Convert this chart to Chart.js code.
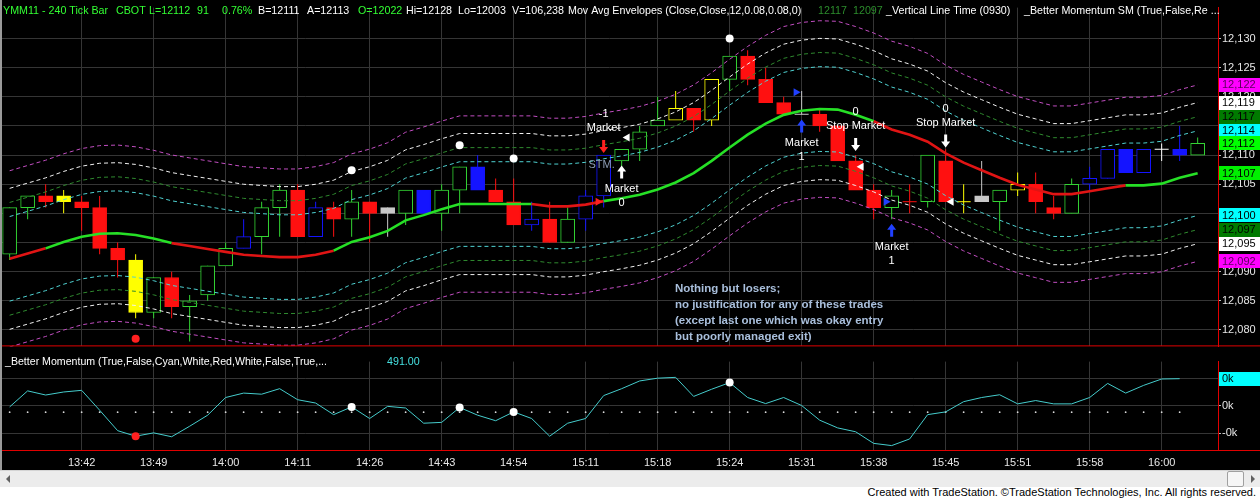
<!DOCTYPE html>
<html>
<head>
<meta charset="utf-8">
<script src="https://cdn.jsdelivr.net/npm/chart.js@4.4.1/dist/chart.umd.min.js"></script>
<style>
  html, body { margin: 0; padding: 0; background: #000; }
  body { width: 1260px; height: 498px; position: relative; overflow: hidden; font-family: "Liberation Sans", Arial, sans-serif; }
  #priceCanvas { position: absolute; left: 0; top: 0; }
  #momCanvas { position: absolute; left: 0; top: 354px; }
  #leftEdge { position: absolute; left: 0; top: 0; width: 2px; height: 470px; background: #9a9a9a; }
  #scroll { position: absolute; left: 0; top: 470px; width: 1260px; height: 16px; background: #ececec; border-top: 1px solid #d4d4d4; }
  #scroll .arrL { position: absolute; left: 6px; top: 4px; width: 0; height: 0; border-top: 4px solid transparent; border-bottom: 4px solid transparent; border-right: 4px solid #606060; }
  #scroll .arrR { position: absolute; right: 5px; top: 4px; width: 0; height: 0; border-top: 4px solid transparent; border-bottom: 4px solid transparent; border-left: 4px solid #606060; }
  #scroll .thumb { position: absolute; left: 1227px; top: 0px; width: 15px; height: 14px; background: #f6f6f6; border: 1px solid #a0a0a0; border-radius: 2px; }
  #footer { position: absolute; left: 0; top: 487px; width: 1256px; height: 11px; padding-right: 4px; background: #fff; color: #000; font-size: 11px; line-height: 11px; text-align: right; white-space: nowrap; }
</style>
</head>
<body>
<canvas id="priceCanvas" width="1260" height="354"></canvas>
<canvas id="momCanvas" width="1260" height="116"></canvas>
<div id="leftEdge"></div>
<div id="scroll"><span class="arrL"></span><span class="thumb"></span><span class="arrR"></span></div>
<div id="footer">Created with TradeStation. ©TradeStation Technologies, Inc. All rights reserved.</div>
<script>
// time axis: label every 4th bar
const timeTickBars = [4, 8, 12, 16, 20, 24, 28, 32, 36, 40, 44, 48, 52, 56, 60, 64];
const timeLabels = ['13:42', '13:49', '14:00', '14:11', '14:26', '14:43', '14:54', '15:11',
                    '15:18', '15:24', '15:31', '15:38', '15:45', '15:51', '15:58', '16:00'];
const priceTicks = [12080, 12085, 12090, 12095, 12100, 12105, 12110, 12115, 12120, 12125, 12130];

// 240 tick bars
const openVals = [12093, 12101, 12103, 12103, 12102, 12101, 12094, 12092, 12083, 12089,
                  12084, 12086, 12091, 12094, 12096, 12101, 12104, 12096, 12101, 12099,
                  12102, 12101, 12100, 12104, 12100, 12104, 12108, 12104, 12102, 12098,
                  12099, 12095, 12099, 12103, 12109, 12111, 12115, 12116, 12118, 12116,
                  12123, 12127, 12123, 12119, 12117, 12117, 12115, 12109, 12104, 12101,
                  12102, 12102, 12109, 12102, 12103, 12102, 12104, 12105, 12101, 12100,
                  12105, 12106, 12111, 12107, 12111, 12111, 12110];
const highVals = [12101, 12103, 12105, 12104, 12103, 12103, 12095, 12093, 12089, 12090,
                  12086, 12091, 12095, 12099, 12102, 12105, 12105, 12102, 12102, 12104,
                  12102, 12101, 12104, 12104, 12105, 12108, 12110, 12106, 12106, 12102,
                  12102, 12101, 12104, 12110, 12111, 12115, 12120, 12121, 12118, 12123,
                  12127, 12128, 12125, 12120, 12121, 12118, 12115, 12110, 12105, 12104,
                  12105, 12110, 12111, 12105, 12109, 12104, 12107, 12107, 12103, 12106,
                  12108, 12111, 12111, 12111, 12112, 12115, 12113];
const lowVals = [12092, 12099, 12101, 12100, 12097, 12093, 12089, 12082, 12082, 12082,
                 12078, 12085, 12091, 12094, 12093, 12096, 12096, 12096, 12096, 12096,
                 12095, 12096, 12098, 12100, 12097, 12100, 12104, 12102, 12098, 12097,
                 12095, 12095, 12097, 12101, 12108, 12109, 12115, 12116, 12114, 12115,
                 12121, 12122, 12119, 12117, 12117, 12114, 12109, 12104, 12099, 12099,
                 12100, 12101, 12102, 12100, 12102, 12097, 12103, 12100, 12099, 12100,
                 12104, 12106, 12107, 12107, 12109, 12109, 12110];
const closeVals = [12101, 12103, 12102, 12102, 12101, 12094, 12092, 12083, 12089, 12084,
                   12085, 12091, 12094, 12096, 12101, 12104, 12096, 12101, 12099, 12102,
                   12100, 12100, 12104, 12100, 12104, 12108, 12104, 12102, 12098, 12099,
                   12095, 12099, 12103, 12110, 12111, 12114, 12116, 12118, 12116, 12123,
                   12127, 12123, 12119, 12117, 12117, 12115, 12109, 12104, 12101, 12103,
                   12102, 12110, 12102, 12102, 12102, 12104, 12105, 12102, 12100, 12105,
                   12106, 12111, 12107, 12111, 12111, 12110, 12112];
// paint bar colour: G green, R red, B blue, Y yellow, S silver, W white
const barColors = ['G','G','R','Y','R','R','R','Y','G','R',
                   'G','G','G','B','G','G','R','B','R','G',
                   'R','S','G','B','G','G','B','R','R','B',
                   'R','G','B','B','G','G','G','Y','R','Y',
                   'G','R','R','R','S','R','R','R','R','G',
                   'R','G','R','Y','S','G','Y','R','R','G',
                   'B','B','B','B','W','B','G'];

// moving average (envelope centre) and its colour
const maVals = [12092.2, 12093.1, 12094.0, 12095.1, 12096.0, 12096.5, 12096.6, 12096.3, 12095.7, 12094.9,
                12094.4, 12093.9, 12093.4, 12092.9, 12092.7, 12092.5, 12092.5, 12092.9, 12093.6, 12095.1,
                12095.9, 12097.0, 12098.8, 12099.7, 12100.7, 12101.6, 12101.6, 12101.6, 12101.6, 12101.6,
                12101.2, 12101.2, 12101.5, 12102.1, 12102.6, 12103.2, 12104.1, 12105.3, 12106.9, 12109.0,
                12111.3, 12113.5, 12115.4, 12116.9, 12117.6, 12117.9, 12117.8, 12116.9, 12115.8, 12114.4,
                12113.5, 12112.3, 12110.3, 12108.7, 12107.4, 12106.1, 12104.9, 12104.1, 12103.3, 12103.3,
                12103.8, 12104.3, 12104.8, 12104.8, 12105.1, 12106.1, 12106.9];
const maTrend = ['R','R','R','G','G','G','G','G','G','G',
                 'R','R','R','R','R','R','R','R','R','G',
                 'G','G','G','G','G','G','G','G','G','G',
                 'R','R','R','R','G','G','G','G','G','G',
                 'G','G','G','G','G','G','G','G','G','R',
                 'R','R','R','R','R','R','R','R','R','R',
                 'R','R','R','G','G','G','G'];
// envelope percents (cyan, green, white, magenta)
const envPercents = [0.06, 0.08, 0.10, 0.125];
const envColors = ['#4fd2d2', '#2f8a2f', '#f2f2f2', '#c24ec2'];
const envBoxColors = ['#00ffff', '#007a00', '#ffffff', '#ff00ff'];

// Better Momentum oscillator
const momVals = [-20, 270, 195, 250, 280, -80, -450, -550, -490, -560,
                 -370, -170, 150, 230, 210, 310, 110, 50, -160, -20,
                 -230, -10, -40, -315, -300, -30, -170, -270, -110, -230,
                 -550, -315, -230, 185, 310, 450, 500, 515, 170, 300,
                 420, 150, 40, 150, 5, -260, -400, -470, -680, -720,
                 -600, -160, -110, 75, 150, 200, 35, 95, 35, 35,
                 150, 405, 230, 370, 485, 491, null];
const momTicks = [-500, 0, 500];
const momRefLevel = -115;

// momentum pivot dots
const dotBars = [7, 19, 25, 28, 40];
const dotPrices = [12078.5, 12107.4, 12111.7, 12109.4, 12130];
const dotColors = ['#ff2020', '#ffffff', '#ffffff', '#ffffff', '#ffffff'];

// strategy orders
const tradeBars = [33, 34, 44, 47, 49, 52];
const tradeTips = [12110.35, 12108.2, 12116.1, 12110.7, 12098.2, 12111.3];
const tradeDirs = ['down', 'up', 'up', 'down', 'up', 'down'];
const tradeColors = ['#ff2020', '#ffffff', '#2040ff', '#ffffff', '#2040ff', '#ffffff'];
const tradeTexts = [['-1', 'Market'], ['Market', '0'], ['Market', '1'], ['0', 'Stop Market'], ['Market', '1'], ['0', 'Stop Market']];
const fillPrices = [12102, 12113, 12120.8, 12108, 12102, 12102];
const fillSides = ['in', 'out', 'in', 'out', 'in', 'out'];

const noteLines = ['Nothing but losers;', 'no justification for any of these trades',
                   '(except last one which was okay entry', 'but poorly managed exit)'];

const FONT = '"Liberation Sans", Arial, sans-serif';
const GRID = '#353535';
const AXIS_RED = '#e00000';
const X_MIN = -0.48, X_MAX = 67.13;
const AXIS_W = 42;
const colorOf = { G: '#33d433', R: '#ff1010', B: '#1414ff', Y: '#ffff00', S: '#c8c8c8', W: '#ffffff' };
const MA_GREEN = '#26e026', MA_RED = '#e01414';

const lastIdx = closeVals.length - 1;
const lastMa = maVals[lastIdx];
const lastMom = momVals.filter(v => v !== null).slice(-1)[0];
const fmtPrice = v => Math.round(v).toLocaleString('en-US');

// -------- datasets for price panel --------
const wickData = lowVals.map((lo, i) => ({ x: i, y: [lo, highVals[i]] }));
const bodyData = openVals.map((o, i) => (o === closeVals[i] ? { x: i, y: null } : { x: i, y: [o, closeVals[i]] }));
const bodyFill = openVals.map((o, i) => (closeVals[i] > o ? '#000000' : colorOf[barColors[i]]));
const barLine = barColors.map(c => colorOf[c]);
const dojiBars = openVals.map((o, i) => i).filter(i => openVals[i] === closeVals[i]);

const envDatasets = [];
envPercents.forEach((p, k) => {
  [1, -1].forEach(sign => {
    envDatasets.push({
      type: 'line',
      data: maVals.map((m, i) => ({ x: i, y: m * (1 + sign * p / 100) })),
      borderColor: envColors[k],
      borderWidth: 1,
      borderDash: [4, 3],
      pointRadius: 0,
      order: 2
    });
  });
});

// header line
const headerPlugin = {
  id: 'header',
  afterDraw(chart) {
    const ctx = chart.ctx;
    const g = '#33ff33', w = '#ffffff', dg = '#2c8c2c';
    const parts = [
      ['YMM11 - 240 Tick Bar', 3, g], ['CBOT', 116, g], ['L=' + closeVals[lastIdx], 149, g], ['91', 197, g],
      ['0.76%', 222, g], ['B=12111', 258, w], ['A=12113', 307, w], ['O=12022', 358, g],
      ['Hi=12128', 406, w], ['Lo=12003', 458, w], ['V=106,238', 512, w],
      ['Mov Avg Envelopes (Close,Close,12,0.08,0.08,0)', 568, w],
      [String(Math.round(lastMa * (1 + envPercents[1] / 100))), 818, dg],
      [String(Math.round(lastMa * (1 - envPercents[1] / 100))), 853, dg],
      ['_Vertical Line Time (0930)', 886, w],
      ['_Better Momentum SM (True,False,Re ...', 1024, w]
    ];
    ctx.save();
    ctx.font = '10.7px ' + FONT;
    ctx.textBaseline = 'middle';
    parts.forEach(p => { ctx.fillStyle = p[2]; ctx.fillText(p[0], p[1], 11); });
    ctx.restore();
  }
};

function valueBox(ctx, chart, yPix, text, bg, fg) {
  const x0 = chart.chartArea.right + 1;
  ctx.fillStyle = bg;
  ctx.fillRect(x0, Math.round(yPix - 7), chart.width - x0, 14);
  ctx.fillStyle = fg;
  ctx.font = '11px ' + FONT;
  ctx.textBaseline = 'middle';
  ctx.fillText(text, x0 + 3, yPix + 0.5);
}

const priceBoxPlugin = {
  id: 'priceBoxes',
  afterDraw(chart) {
    const ctx = chart.ctx, y = chart.scales.y;
    ctx.save();
    // separator line to the oscillator pane
    ctx.strokeStyle = AXIS_RED;
    ctx.lineWidth = 1;
    ctx.beginPath();
    ctx.moveTo(0, chart.chartArea.bottom - 0.5);
    ctx.lineTo(chart.width, chart.chartArea.bottom - 0.5);
    ctx.stroke();
    const boxes = [];
    envPercents.forEach((p, k) => {
      boxes.push([lastMa * (1 + p / 100), envBoxColors[k]]);
      boxes.push([lastMa * (1 - p / 100), envBoxColors[k]]);
    });
    boxes.push([closeVals[lastIdx], '#00ff00']);
    boxes.push([lastMa, '#00f000']);
    boxes.forEach(b => {
      const fg = b[1] === '#ff00ff' ? '#5a005a' : '#000000';
      valueBox(ctx, chart, y.getPixelForValue(b[0]), fmtPrice(b[0]), b[1], fg);
    });
    ctx.restore();
  }
};

function drawArrow(ctx, x, tipY, dir, color) {
  const s = dir === 'up' ? 1 : -1;
  ctx.fillStyle = color;
  ctx.beginPath();
  ctx.moveTo(x, tipY);
  ctx.lineTo(x + 4.5, tipY + s * 6);
  ctx.lineTo(x + 1.5, tipY + s * 6);
  ctx.lineTo(x + 1.5, tipY + s * 13);
  ctx.lineTo(x - 1.5, tipY + s * 13);
  ctx.lineTo(x - 1.5, tipY + s * 6);
  ctx.lineTo(x - 4.5, tipY + s * 6);
  ctx.closePath();
  ctx.fill();
}

const tradePlugin = {
  id: 'trades',
  afterDatasetsDraw(chart) {
    const ctx = chart.ctx, xs = chart.scales.x, ys = chart.scales.y;
    ctx.save();
    ctx.font = '11px ' + FONT;
    ctx.textAlign = 'center';
    ctx.textBaseline = 'middle';
    tradeBars.forEach((b, k) => {
      const x = xs.getPixelForValue(b);
      const tip = ys.getPixelForValue(tradeTips[k]);
      drawArrow(ctx, x, tip, tradeDirs[k], tradeColors[k]);
      ctx.fillStyle = '#ffffff';
      if (tradeDirs[k] === 'down') {
        ctx.fillText(tradeTexts[k][0], x, tip - 39);
        ctx.fillText(tradeTexts[k][1], x, tip - 25);
      } else {
        ctx.fillText(tradeTexts[k][0], x, tip + 23);
        ctx.fillText(tradeTexts[k][1], x, tip + 37);
      }
      // fill price marker
      const fy = ys.getPixelForValue(fillPrices[k]);
      ctx.fillStyle = tradeColors[k];
      ctx.beginPath();
      if (fillSides[k] === 'in') {
        ctx.moveTo(x - 1, fy); ctx.lineTo(x - 8, fy - 4); ctx.lineTo(x - 8, fy + 4);
      } else {
        ctx.moveTo(x + 1, fy); ctx.lineTo(x + 8, fy - 4); ctx.lineTo(x + 8, fy + 4);
      }
      ctx.closePath();
      ctx.fill();
    });
    // half hidden order label
    ctx.fillStyle = '#8c9cb4';
    ctx.fillText('STM.', xs.getPixelForValue(tradeBars[0]) - 2, ys.getPixelForValue(12108.3));
    // note
    ctx.font = 'bold 11.5px ' + FONT;
    ctx.textAlign = 'left';
    ctx.fillStyle = '#a9bfdc';
    const nx = xs.getPixelForValue(36.96), ny = ys.getPixelForValue(12087);
    noteLines.forEach((t, i) => ctx.fillText(t, nx, ny + i * 16));
    ctx.restore();
  }
};

new Chart(document.getElementById('priceCanvas'), {
  type: 'bar',
  data: {
    datasets: [
      {
        type: 'line',
        data: dotBars.map((b, k) => ({ x: b, y: dotPrices[k] })),
        showLine: false,
        pointRadius: 4,
        pointBorderWidth: 0,
        pointBackgroundColor: dotColors,
        order: 0
      },
      {
        type: 'line',
        data: maVals.map((m, i) => ({ x: i, y: m })),
        borderWidth: 2.6,
        pointRadius: 0,
        borderColor: MA_GREEN,
        segment: { borderColor: c => (maTrend[c.p1DataIndex] === 'G' ? MA_GREEN : MA_RED) },
        order: 1
      },
      ...envDatasets,
      {
        type: 'line',
        data: dojiBars.map(i => ({ x: i, y: closeVals[i] })),
        showLine: false,
        pointStyle: 'line',
        pointRadius: 7,
        pointBorderWidth: 1,
        pointBorderColor: dojiBars.map(i => barLine[i]),
        order: 3
      },
      {
        data: bodyData,
        grouped: false,
        barThickness: 14,
        backgroundColor: bodyFill,
        borderColor: barLine,
        borderWidth: 1,
        borderSkipped: false,
        order: 4
      },
      {
        data: wickData,
        grouped: false,
        barThickness: 1,
        backgroundColor: barLine,
        borderWidth: 0,
        inflateAmount: 0,
        order: 5
      }
    ]
  },
  options: {
    responsive: false,
    animation: false,
    events: [],
    layout: { padding: { left: 1, right: 0, top: 0, bottom: 0 }, autoPadding: false },
    plugins: { legend: { display: false }, tooltip: { enabled: false } },
    scales: {
      x: {
        type: 'linear', min: X_MIN, max: X_MAX, offset: false,
        afterBuildTicks: s => { s.ticks = timeTickBars.map(v => ({ value: v })); },
        afterFit: s => { s.height = 0; },
        ticks: { display: false },
        grid: { color: GRID, offset: false, drawTicks: false },
        border: { display: false }
      },
      y: {
        position: 'right', min: 12077.18, max: 12135.3,
        afterBuildTicks: s => { s.ticks = priceTicks.map(v => ({ value: v })); },
        afterFit: s => { s.width = AXIS_W; },
        ticks: { color: '#e6e6e6', font: { size: 11, family: FONT }, padding: 1, callback: v => v.toLocaleString('en-US') },
        grid: { color: GRID, tickLength: 3, tickColor: '#bdbdbd' },
        border: { color: AXIS_RED, width: 1 }
      }
    }
  },
  plugins: [headerPlugin, tradePlugin, priceBoxPlugin]
});

// -------- oscillator pane --------
const momPlugin = {
  id: 'momDecor',
  afterDraw(chart) {
    const ctx = chart.ctx, y = chart.scales.y;
    ctx.save();
    ctx.strokeStyle = AXIS_RED;
    ctx.lineWidth = 1;
    ctx.beginPath();
    ctx.moveTo(0, chart.chartArea.bottom + 0.5);
    ctx.lineTo(chart.width, chart.chartArea.bottom + 0.5);
    ctx.stroke();
    ctx.font = '10.7px ' + FONT;
    ctx.textBaseline = 'middle';
    ctx.fillStyle = '#ffffff';
    ctx.fillText('_Better Momentum (True,False,Cyan,White,Red,White,False,True,...', 5, 8, 322);
    ctx.fillStyle = '#45e0e0';
    ctx.fillText(lastMom.toFixed(2), 387, 8);
    valueBox(ctx, chart, y.getPixelForValue(lastMom), '0k', '#00ffff', '#000000');
    ctx.restore();
  }
};

const momFmt = v => (v < 0 ? '-' : '') + Math.trunc(Math.abs(v) / 1000) + 'k';

new Chart(document.getElementById('momCanvas'), {
  type: 'line',
  data: {
    datasets: [
      {
        data: dotBars.map(b => ({ x: b, y: momVals[b] })),
        showLine: false,
        pointRadius: 4,
        pointBorderWidth: 0,
        pointBackgroundColor: dotColors,
        order: 0
      },
      {
        data: momVals.map((v, i) => ({ x: i, y: v })),
        borderColor: '#45cccc',
        borderWidth: 1,
        pointRadius: 0,
        spanGaps: false,
        order: 1
      },
      {
        data: momVals.map((v, i) => ({ x: i, y: v === null ? null : momRefLevel })),
        showLine: false,
        pointRadius: 0.9,
        pointBorderWidth: 0,
        pointBackgroundColor: '#d8d8d8',
        order: 2
      }
    ]
  },
  options: {
    responsive: false,
    animation: false,
    events: [],
    layout: { padding: { left: 1, right: 0, top: 0, bottom: 0 }, autoPadding: false },
    plugins: { legend: { display: false }, tooltip: { enabled: false } },
    scales: {
      x: {
        type: 'linear', min: X_MIN, max: X_MAX, offset: false,
        afterBuildTicks: s => { s.ticks = timeTickBars.map(v => ({ value: v })); },
        afterFit: s => { s.height = 20; },
        ticks: {
          color: '#e6e6e6', font: { size: 11, family: FONT }, padding: 6, maxRotation: 0, autoSkip: false,
          callback: v => timeLabels[timeTickBars.indexOf(v)] || ''
        },
        grid: { color: GRID, offset: false, drawTicks: false },
        border: { display: false }
      },
      y: {
        position: 'right', min: -800, max: 800,
        afterBuildTicks: s => { s.ticks = momTicks.map(v => ({ value: v })); },
        afterFit: s => { s.width = AXIS_W; },
        ticks: { color: '#e6e6e6', font: { size: 11, family: FONT }, padding: 1, callback: momFmt },
        grid: { color: GRID, tickLength: 3, tickColor: '#bdbdbd' },
        border: { color: AXIS_RED, width: 1 }
      }
    }
  },
  plugins: [momPlugin]
});
</script>
</body>
</html>
